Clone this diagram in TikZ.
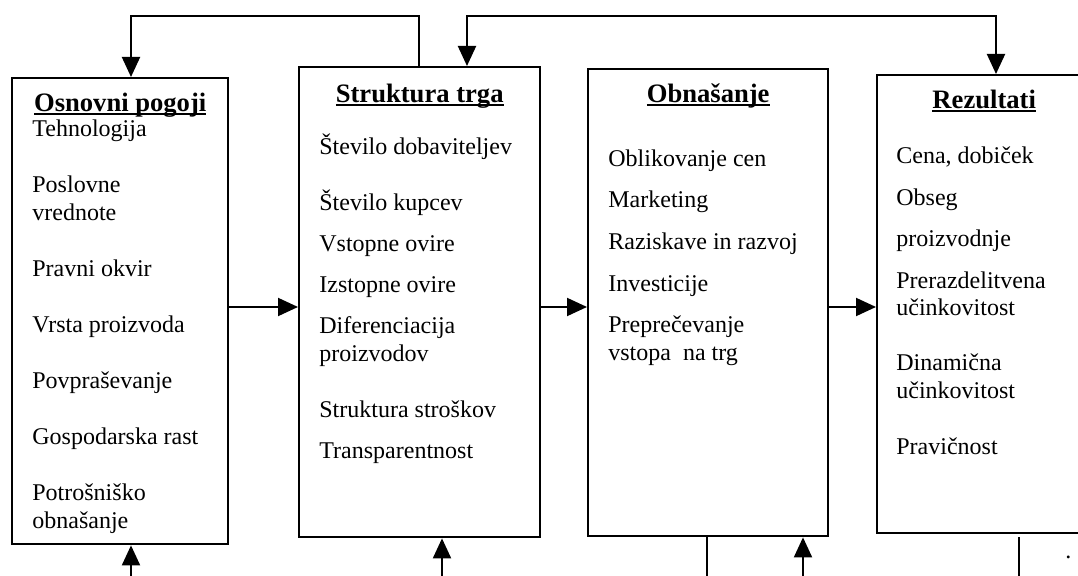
\documentclass[tikz,border=0pt]{standalone}
\usepackage{fontspec}
\setmainfont{Liberation Serif}
\usetikzlibrary{arrows.meta}

\newsavebox{\naslovbox}
\newcommand{\crtano}[1]{\sbox{\naslovbox}{#1}\rlap{\rule[-1.7pt]{\wd\naslovbox}{1pt}}\usebox{\naslovbox}}

\tikzset{
  okvir/.style={draw, line width=1.2pt, anchor=north west, inner sep=0pt},
  naslov/.style={anchor=base, inner sep=0pt, font=\fontsize{13.3}{16}\selectfont\bfseries},
  alineja/.style={anchor=base west, inner sep=0pt, font=\fontsize{12}{14}\selectfont},
  crta/.style={line width=1pt},
  puscica/.style={crta, -{Triangle[length=10pt,width=9pt]}},
  dvojna/.style={crta, {Triangle[length=10pt,width=9pt]}-{Triangle[length=10pt,width=9pt]}}
}

\begin{document}
\begin{tikzpicture}[x=0.5pt,y=-0.5pt]
\useasboundingbox (0,0) rectangle (1078,576);
\clip (0,0) rectangle (1078,576);

% okvirji
\node[okvir, minimum width=108pt, minimum height=233pt] (osn) at (11,77) {};
\node[okvir, minimum width=120.5pt, minimum height=235pt] (trg) at (298,66) {};
\node[okvir, minimum width=120pt, minimum height=233.5pt] (obn) at (587,68) {};
\node[okvir, minimum width=107pt, minimum height=229pt] (rez) at (876,74) {};

% naslovi
\node[naslov] (osn-n) at (osn.north |- 0,112) {\crtano{Osnovni pogoji}};
\node[naslov] (trg-n) at (trg.north |- 0,103) {\crtano{Struktura trga}};
\node[naslov] (obn-n) at (obn.north |- 0,103) {\crtano{Obnašanje}};
\node[naslov] (rez-n) at (rez.north |- 0,109) {\crtano{Rezultati}};

% vsebina
\foreach \y/\t [count=\i] in {137/Tehnologija, 193/Poslovne, 221/vrednote,
    277/Pravni okvir, 333/Vrsta proizvoda, 389/Povpraševanje,
    445/Gospodarska rast, 501/Potrošniško, 529/obnašanje}
  \node[alineja] (osn-\i) at (32,\y) {\t};
\foreach \y/\t [count=\i] in {155/Število dobaviteljev, 211/Število kupcev,
    252/Vstopne ovire, 293/Izstopne ovire, 334/Diferenciacija,
    362/proizvodov, 418/Struktura stroškov, 459/Transparentnost}
  \node[alineja] (trg-\i) at (319,\y) {\t};
\foreach \y/\t [count=\i] in {167/Oblikovanje cen, 208/Marketing,
    250/Raziskave in razvoj, 292/Investicije, 333/Preprečevanje,
    361/vstopa\ \ na trg}
  \node[alineja] (obn-\i) at (608,\y) {\t};
\foreach \y/\t [count=\i] in {164/{Cena, dobiček}, 206/Obseg,
    247/proizvodnje, 289/Prerazdelitvena, 316/učinkovitost,
    371/Dinamična, 399/učinkovitost, 455/Pravičnost}
  \node[alineja] (rez-\i) at (896,\y) {\t};
\node[alineja] (pika) at (1065,559) {.};

% puscice med okvirji
\coordinate (sred) at (0,307);
\draw[puscica] (osn.east |- sred) -- (trg.west |- sred);
\draw[puscica] (trg.east |- sred) -- (obn.west |- sred);
\draw[puscica] (obn.east |- sred) -- (rez.west |- sred);

% povratne zanke zgoraj
\coordinate (g1) at (131,16.5);
\coordinate (g2) at (419,16.5);
\coordinate (g3) at (467,16.5);
\coordinate (g4) at (996,16.5);
\draw[puscica] (trg.north -| g2) -- (g2) -- (g1) -- (osn.north -| g1);
\draw[dvojna] (trg.north -| g3) -- (g3) -- (g4) -- (rez.north -| g4);

% spodaj
\coordinate (d1) at (131,580);
\coordinate (d2) at (442,580);
\coordinate (d3) at (707,580);
\coordinate (d4) at (803,580);
\coordinate (d5) at (1019,580);
\draw[puscica] (d1) -- (osn.south -| d1);
\draw[puscica] (d2) -- (trg.south -| d2);
\draw[crta] (obn.south -| d3) -- (d3);
\draw[puscica] (d4) -- (obn.south -| d4);
\draw[crta] ([yshift=-1.5pt]rez.south -| d5) -- (d5);

\end{tikzpicture}
\end{document}
